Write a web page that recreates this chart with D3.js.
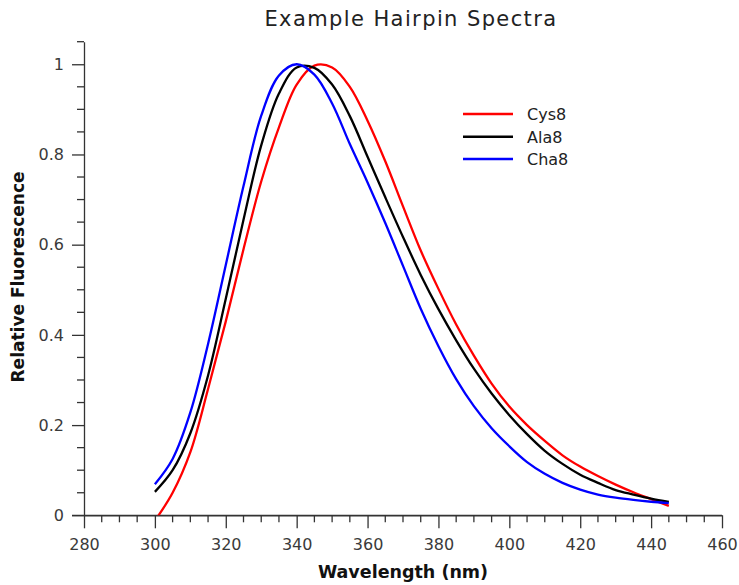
<!DOCTYPE html>
<html>
<head>
<meta charset="utf-8">
<script src="https://cdn.jsdelivr.net/npm/d3@7"></script>
<style>
  html, body { margin: 0; padding: 0; background: #fff; }
  svg { display: block; font-family: "DejaVu Sans", sans-serif; }
</style>
</head>
<body>
<svg id="chart" width="739" height="585"></svg>
<script>
const wavelengths = [300,305,310,315,320,325,330,335,340,345,350,355,360,365,370,375,380,385,390,395,400,405,410,415,420,425,430,435,440,445];
const cys8 = [-0.012,0.05,0.14,0.28,0.43,0.59,0.74,0.86,0.955,0.997,0.993,0.95,0.875,0.785,0.685,0.587,0.502,0.423,0.354,0.292,0.241,0.20,0.165,0.133,0.108,0.087,0.068,0.051,0.036,0.021];
const ala8 = [0.052,0.10,0.182,0.31,0.48,0.655,0.82,0.935,0.993,0.992,0.955,0.885,0.795,0.705,0.617,0.533,0.457,0.388,0.325,0.27,0.222,0.18,0.143,0.114,0.09,0.072,0.056,0.046,0.037,0.03];
const cha8 = [0.069,0.125,0.228,0.38,0.555,0.73,0.886,0.975,1.0,0.977,0.913,0.823,0.738,0.648,0.553,0.458,0.375,0.302,0.242,0.193,0.153,0.118,0.092,0.072,0.057,0.046,0.039,0.034,0.030,0.027];
const seriesNames = ["Cys8","Ala8","Cha8"];
const seriesColors = ["#ff0000","#000000","#0000ff"];
const xTickValues = [280,300,320,340,360,380,400,420,440,460];
const yTickValues = [0,0.2,0.4,0.6,0.8,1];

const svg = d3.select("#chart");
const x = d3.scaleLinear().domain([280,460]).range([84,722]);
const y = d3.scaleLinear().domain([0,1.05]).range([515.3,41.7]);
const axisColor = "#333";
const labelColor = "#3a3a3a";

svg.append("defs").append("clipPath").attr("id","clip")
  .append("rect").attr("x",84).attr("y",30).attr("width",660).attr("height",515.3-30);

const xMinor = d3.range(280,461,5).filter(v => v % 20 !== 0);
const yMinor = d3.range(0,1.051,0.05).filter(v => Math.abs(v*5 - Math.round(v*5)) > 1e-6);

const xAxis = d3.axisBottom(x).tickValues(xTickValues).tickSize(13).tickPadding(10).tickFormat(d3.format("d")).tickSizeOuter(0);
const gx = svg.append("g").attr("transform",`translate(0,${y(0)})`).call(xAxis);
const yAxis = d3.axisLeft(y).tickValues(yTickValues).tickSize(12).tickPadding(8).tickFormat(d => d === 0 ? "0" : d === 1 ? "1" : d3.format(".1f")(d)).tickSizeOuter(0);
const gy = svg.append("g").attr("transform",`translate(${x(280)},0)`).call(yAxis);

[gx, gy].forEach(g => {
  g.select(".domain").attr("stroke",axisColor).attr("stroke-width",1.3);
  g.selectAll(".tick line").attr("stroke",axisColor).attr("stroke-width",1.3);
  g.selectAll(".tick text").attr("fill",labelColor).attr("font-size","16px").attr("font-family","DejaVu Sans");
});
gx.append("line").attr("x1",x(280)-12).attr("x2",x(460)).attr("y1",0).attr("y2",0).attr("stroke",axisColor).attr("stroke-width",1.3);

gx.selectAll(".minor").data(xMinor).enter().append("line")
  .attr("x1",d=>x(d)).attr("x2",d=>x(d)).attr("y1",0).attr("y2",7)
  .attr("stroke",axisColor).attr("stroke-width",1.3);
gy.selectAll(".minor").data(yMinor).enter().append("line")
  .attr("x1",-7).attr("x2",0).attr("y1",d=>y(d)).attr("y2",d=>y(d))
  .attr("stroke",axisColor).attr("stroke-width",1.3);

const allSeries = [cys8, ala8, cha8];
const line = d3.line().x((d,i)=>x(wavelengths[i])).y(d=>y(d)).curve(d3.curveCatmullRom.alpha(0.5));
const plot = svg.append("g").attr("clip-path","url(#clip)");
allSeries.forEach((s,k) => {
  plot.append("path").datum(s).attr("d",line).attr("fill","none")
    .attr("stroke",seriesColors[k]).attr("stroke-width",2.3).attr("stroke-linejoin","round");
});

const legendY = [114,136.7,159];
seriesNames.forEach((n,k) => {
  svg.append("line").attr("x1",463).attr("x2",513).attr("y1",legendY[k]).attr("y2",legendY[k])
    .attr("stroke",seriesColors[k]).attr("stroke-width",2.6);
  svg.append("text").attr("x",527).attr("y",legendY[k]+6).attr("font-size","16px")
    .attr("fill","#222").text(n);
});

svg.append("text").attr("x",411).attr("y",26).attr("text-anchor","middle")
  .attr("font-size","21px").attr("letter-spacing","1.4px").attr("fill","#222").text("Example Hairpin Spectra");
svg.append("text").attr("x",403).attr("y",578).attr("text-anchor","middle")
  .attr("font-size","17.5px").attr("font-weight","bold").attr("fill","#111").text("Wavelength (nm)");
svg.append("text").attr("transform","translate(24,277) rotate(-90)").attr("text-anchor","middle")
  .attr("font-size","17px").attr("font-weight","bold").attr("fill","#111").text("Relative Fluorescence");
</script>
</body>
</html>
